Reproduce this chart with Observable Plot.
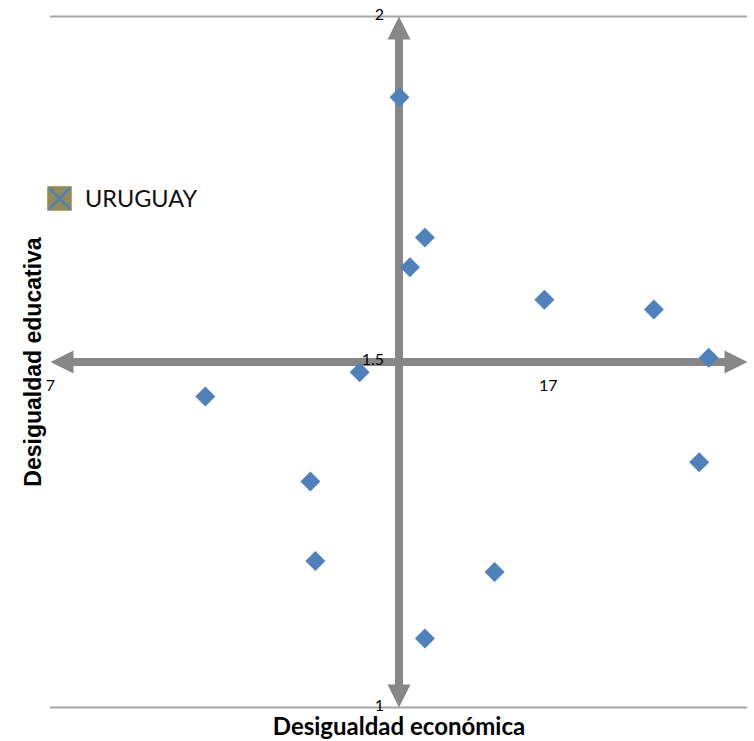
<!DOCTYPE html>
<html>
<head>
<meta charset="utf-8">
<script src="https://cdn.jsdelivr.net/npm/d3@7"></script>
<script src="https://cdn.jsdelivr.net/npm/@observablehq/plot@0.6"></script>
<style>
  html, body { margin: 0; padding: 0; background: #fff; }
  #wrap { position: relative; width: 754px; height: 741px; }
  #legend { position: absolute; left: 47px; top: 184px; display: flex; align-items: center;
            font-family: Lato, "Open Sans", sans-serif; font-size: 23.5px; color: #111; }
  #legend svg { margin-right: 13px; }
</style>
</head>
<body>
<div id="wrap">
  <div id="chart"></div>
  <div id="legend">
    <svg width="25" height="25"><rect x="0" y="0" width="25" height="25" fill="#948A54" stroke="#c9c3a6" stroke-width="1"/><line x1="2" y1="2" x2="23" y2="23" stroke="#4F81BD" stroke-width="2.5"/><line x1="23" y1="2" x2="2" y2="23" stroke="#4F81BD" stroke-width="2.5"/></svg>
    <span>URUGUAY</span>
  </div>
</div>
<script>
// Data
const econ = [14.01, 14.52, 14.22, 16.92, 19.12, 20.22, 13.21, 10.11, 12.22, 20.03, 12.32, 15.92, 14.52];
const edu  = [1.883, 1.680, 1.637, 1.590, 1.576, 1.506, 1.485, 1.450, 1.327, 1.355, 1.212, 1.196, 1.100];
const xTicks = [7, 17];
const yTicks = [1, 1.5, 2];
const yGrid = [1, 2];
const xDomain = [7, 21];
const yDomain = [1, 2];
const crossX = 14;   // vertical axis crosses here
const crossY = 1.5;  // horizontal axis crosses here
const xTitle = "Desigualdad económica";
const yTitle = "Desigualdad educativa";

const points = econ.map((x, i) => ({x, y: edu[i]}));
const vAxis = [{x: crossX, y1: yDomain[1], y2: yDomain[0]}];
const hAxis = [{y: crossY, x1: xDomain[0], x2: xDomain[1]}];

const axisColor = "#878787";
const head = 23, half = 11.5;
const mk = (pts) => ({draw(ctx) { ctx.moveTo(0, 0); ctx.lineTo(pts[0], pts[1]); ctx.lineTo(pts[2], pts[3]); ctx.closePath(); }});
const upHead = mk([-half, head, half, head]);
const downHead = mk([-half, -head, half, -head]);
const leftHead = mk([head, -half, head, half]);
const rightHead = mk([-head, -half, -head, half]);

const calibri = "Lato, 'Open Sans', sans-serif";

const chart = Plot.plot({
  width: 754,
  height: 741,
  marginTop: 16,
  marginBottom: 34,
  marginLeft: 50,
  marginRight: 7,
  style: {background: "#fff", overflow: "visible"},
  x: {domain: xDomain, axis: null},
  y: {domain: yDomain, axis: null},
  marks: [
    Plot.ruleY(yGrid, {stroke: "#a5a5a5", strokeWidth: 2}),
    Plot.ruleX(vAxis, {x: "x", y1: "y1", y2: "y2", stroke: axisColor, strokeWidth: 8, insetTop: 20, insetBottom: 20}),
    Plot.ruleY(hAxis, {y: "y", x1: "x1", x2: "x2", stroke: axisColor, strokeWidth: 8, insetLeft: 20, insetRight: 20}),
    Plot.dot([{x: crossX, y: yDomain[1]}], {x: "x", y: "y", symbol: upHead, fill: axisColor, stroke: "none"}),
    Plot.dot([{x: crossX, y: yDomain[0]}], {x: "x", y: "y", symbol: downHead, fill: axisColor, stroke: "none"}),
    Plot.dot([{x: xDomain[0], y: crossY}], {x: "x", y: "y", symbol: leftHead, fill: axisColor, stroke: "none"}),
    Plot.dot([{x: xDomain[1], y: crossY}], {x: "x", y: "y", symbol: rightHead, fill: axisColor, stroke: "none"}),
    Plot.dot(points, {x: "x", y: "y", symbol: "diamond2", r: 9, fill: "#4F81BD", stroke: "none"}),
    Plot.text(yTicks, {x: () => crossX, y: d => d, text: d => String(d), textAnchor: "end", dx: -15, dy: -2, fontSize: 16, fontFamily: calibri, fill: "#000"}),
    Plot.text(xTicks, {x: d => d, y: () => crossY, text: d => String(d), dy: 24, fontSize: 16, fontFamily: calibri, fill: "#000"}),
    Plot.text([xTitle], {frameAnchor: "bottom", text: d => d, dy: 27, fontSize: 24, fontWeight: "bold", fontFamily: calibri, fill: "#000"}),
    Plot.text([yTitle], {frameAnchor: "left", textAnchor: "middle", text: d => d, dx: -17, rotate: -90, fontSize: 23, fontWeight: "bold", fontFamily: "'Liberation Sans', Arial, sans-serif", fill: "#000"})
  ]
});
document.getElementById("chart").appendChild(chart);
</script>
</body>
</html>
